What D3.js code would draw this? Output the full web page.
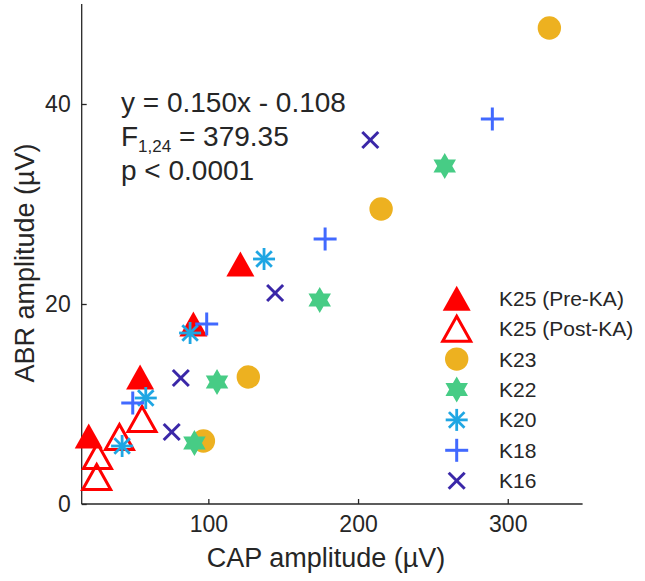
<!DOCTYPE html>
<html>
<head>
<meta charset="utf-8">
<script src="https://cdn.jsdelivr.net/npm/d3@7"></script>
<style>
  html, body { margin: 0; padding: 0; background: #fff; }
  svg text { font-family: "Liberation Sans", Arial, Helvetica, sans-serif; fill: #262626; }
</style>
</head>
<body>
<svg id="chart" width="645" height="581"></svg>
<script>
// ---- Data ----
const seriesNames = ["K25 (Pre-KA)", "K25 (Post-KA)", "K23", "K22", "K20", "K18", "K16"];
const preKA_x  = [20.1, 54.4, 90.0, 121.4];
const preKA_y  = [6.8, 12.7, 18.0, 24.0];
const postKA_x = [25.4, 25.9, 40.6, 55.7];
const postKA_y = [2.7, 4.8, 6.7, 8.5];
const k23_x = [96.7, 126.7, 215.4, 327.8];
const k23_y = [6.3, 12.7, 29.5, 47.6];
const k22_x = [90.7, 105.8, 174.4, 257.9];
const k22_y = [6.1, 12.2, 20.4, 33.8];
const k20_x = [42.4, 58.2, 87.8, 137.2];
const k20_y = [5.8, 10.6, 17.1, 24.5];
const k18_x = [49.5, 98.9, 178.0, 289.7];
const k18_y = [10.1, 18.0, 26.5, 38.5];
const k16_x = [75.5, 81.6, 144.6, 208.2];
const k16_y = [7.2, 12.6, 21.1, 36.4];
const xTicks = [100, 200, 300];
const yTicks = [0, 20, 40];
const xDomain = [15.4, 350];
const yDomain = [0, 50];
const xTitle = "CAP amplitude (µV)";
const yTitle = "ABR amplitude (µV)";
const statLine1 = "y = 0.150x - 0.108";
const statF = ["F", "1,24", " = 379.35"];
const statLine3 = "p < 0.0001";

// ---- Layout ----
const svg = d3.select("#chart");
const pLeft = 81.7, pRight = 582.6, pTop = 4, pBottom = 504;
const x = d3.scaleLinear().domain(xDomain).range([pLeft, pRight]);
const y = d3.scaleLinear().domain(yDomain).range([pBottom, pTop]);

const styles = [
  {name: seriesNames[0], xs: preKA_x,  ys: preKA_y,  shape: "triFill",  color: "#ff0000"},
  {name: seriesNames[1], xs: postKA_x, ys: postKA_y, shape: "triOpen",  color: "#ff0000"},
  {name: seriesNames[2], xs: k23_x,    ys: k23_y,    shape: "circle",   color: "#EDB120"},
  {name: seriesNames[3], xs: k22_x,    ys: k22_y,    shape: "hexagram", color: "#47CC85"},
  {name: seriesNames[4], xs: k20_x,    ys: k20_y,    shape: "asterisk", color: "#1FA6E3"},
  {name: seriesNames[5], xs: k18_x,    ys: k18_y,    shape: "plus",     color: "#4169FF"},
  {name: seriesNames[6], xs: k16_x,    ys: k16_y,    shape: "cross",    color: "#3A27A8"}
];

function drawMarker(g, shape, color, cx, cy) {
  const m = g.append("g").attr("transform", `translate(${cx},${cy})`);
  if (shape === "triFill" || shape === "triOpen") {
    const w = 14, h = 12.5;
    const pts = [[0, -h], [w, h], [-w, h]];
    const p = m.append("path").attr("d", "M" + pts.map(d => d.join(",")).join("L") + "Z");
    if (shape === "triFill") p.attr("fill", color);
    else p.attr("fill", "none").attr("stroke", color).attr("stroke-width", 3).attr("stroke-linejoin", "miter");
  } else if (shape === "circle") {
    m.append("circle").attr("r", 11.7).attr("fill", color);
  } else if (shape === "hexagram") {
    const R = 13, r = R / Math.sqrt(3);
    const pts = [];
    for (let i = 0; i < 12; i++) {
      const a = -Math.PI / 2 + i * Math.PI / 6;
      const rr = i % 2 === 0 ? R : r;
      pts.push([rr * Math.cos(a), rr * Math.sin(a)]);
    }
    m.append("path").attr("d", "M" + pts.map(d => d.join(",")).join("L") + "Z").attr("fill", color);
  } else if (shape === "asterisk") {
    const R = 11;
    for (let i = 0; i < 4; i++) {
      const a = i * Math.PI / 4;
      m.append("line").attr("x1", -R * Math.cos(a)).attr("y1", -R * Math.sin(a))
        .attr("x2", R * Math.cos(a)).attr("y2", R * Math.sin(a))
        .attr("stroke", color).attr("stroke-width", 2.8);
    }
  } else if (shape === "plus") {
    const R = 11.5;
    m.append("line").attr("x1", -R).attr("x2", R).attr("y1", 0).attr("y2", 0).attr("stroke", color).attr("stroke-width", 3);
    m.append("line").attr("y1", -R).attr("y2", R).attr("x1", 0).attr("x2", 0).attr("stroke", color).attr("stroke-width", 3);
  } else if (shape === "cross") {
    const R = 8;
    m.append("line").attr("x1", -R).attr("x2", R).attr("y1", -R).attr("y2", R).attr("stroke", color).attr("stroke-width", 3);
    m.append("line").attr("x1", -R).attr("x2", R).attr("y1", R).attr("y2", -R).attr("stroke", color).attr("stroke-width", 3);
  }
}

// ---- Axes ----
const xAxis = d3.axisBottom(x).tickValues(xTicks).tickSizeInner(-5).tickSizeOuter(0).tickPadding(12);
const yAxis = d3.axisLeft(y).tickValues(yTicks).tickSizeInner(-5).tickSizeOuter(0).tickPadding(11);

const gx = svg.append("g").attr("transform", `translate(0,${pBottom})`).call(xAxis);
const gy = svg.append("g").attr("transform", `translate(${pLeft},0)`).call(yAxis);
[gx, gy].forEach(g => {
  g.select(".domain").attr("stroke", "#262626").attr("stroke-width", 1.3);
  g.selectAll(".tick line").attr("stroke", "#262626").attr("stroke-width", 1.3);
  g.selectAll(".tick text").style("font-size", "23px").attr("fill", "#262626")
    .style("font-family", '"Liberation Sans", Arial, sans-serif');
});
gx.select(".domain").attr("d", `M${pLeft},0H${pRight}`);
gy.select(".domain").attr("d", `M0,${pTop}V${pBottom}`);

// ---- Axis titles ----
svg.append("text").attr("x", 326).attr("y", 567)
  .attr("text-anchor", "middle").style("font-size", "27px").text(xTitle);
svg.append("text").attr("transform", `translate(34,263) rotate(-90)`)
  .attr("text-anchor", "middle").style("font-size", "27px").text(yTitle);

// ---- Data marks ----
const plot = svg.append("g");
styles.forEach(s => {
  s.xs.forEach((xv, i) => drawMarker(plot, s.shape, s.color, x(xv), y(s.ys[i])));
});

// ---- Statistics annotation ----
const ann = svg.append("g").style("font-size", "28px");
ann.append("text").attr("x", 121).attr("y", 112).text(statLine1);
const fT = ann.append("text").attr("x", 121).attr("y", 146);
fT.append("tspan").text(statF[0]);
fT.append("tspan").attr("dy", 6).style("font-size", "17px").text(statF[1]);
fT.append("tspan").attr("dy", -6).text(statF[2]);
ann.append("text").attr("x", 121).attr("y", 180).text(statLine3);

// ---- Legend ----
const lg = svg.append("g");
styles.forEach((s, i) => {
  const cy = 298.3 + i * 30.4;
  drawMarker(lg, s.shape, s.color, 456.7, cy);
  lg.append("text").attr("x", 499).attr("y", cy).attr("dy", "0.36em")
    .style("font-size", "21px").text(s.name);
});
</script>
</body>
</html>
